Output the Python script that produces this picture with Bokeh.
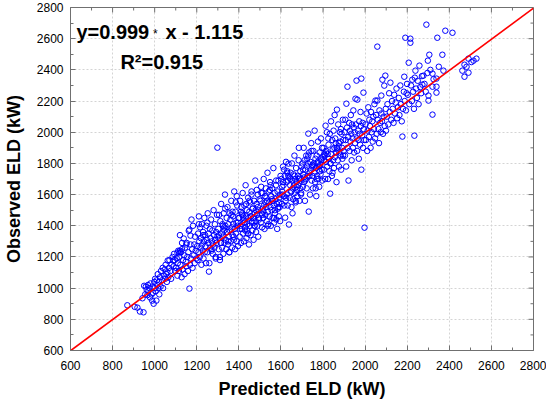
from bokeh.plotting import figure
from bokeh.models import Label, FixedTicker, Range1d
from bokeh.embed import file_html
from bokeh.resources import INLINE

# ---------------- data ----------------
pred_a = [870, 905, 918, 930, 942, 947, 950, 955, 958, 962, 965, 968, 970, 975, 978, 980, 985, 988, 990, 992, 995, 998, 1000]
obs_a = [890, 880, 875, 850, 935, 845, 1015, 960, 1010, 990, 955, 1020, 980, 1000, 940, 1030, 960, 920, 1010, 970, 900, 1040, 1000]

pred_b = [1002, 1005, 1008, 1010, 1012, 1015, 1018, 1020, 1022, 1025, 1028, 1030, 1035, 1038, 1040, 1045, 1048, 1050, 1052, 1055,
          1058, 1060, 1062, 1065, 1068, 1070, 1075, 1078, 1080, 1085, 1088, 1090, 1092, 1095, 1098]
obs_b = [1060, 980, 920, 1050, 1020, 1090, 1000, 1040, 960, 1070, 1010, 1110, 1050, 1130, 1000, 1080, 1120, 1060, 1150, 1090,
         1040, 1100, 1177, 1070, 1130, 1180, 1110, 1060, 1150, 1200, 1177, 1140, 1220, 1180, 1110]

pred_c = [1102, 1105, 1108, 1110, 1112, 1115, 1118, 1120, 1122, 1125, 1128, 1130, 1132, 1135, 1138, 1140, 1142, 1145, 1148, 1150,
          1152, 1155, 1158, 1160, 1162, 1165, 1168, 1170, 1172, 1175, 1178, 1180, 1182, 1185, 1188, 1190, 1192, 1195, 1198, 1165,
          1170, 1150, 1130, 1120, 1108, 1118]
obs_c = [1130, 1190, 1080, 1160, 1240, 1110, 1200, 1340, 1150, 1230, 1070, 1250, 1120, 1180, 1318, 1210, 1090, 1260, 1170, 1140,
         1290, 1200, 1110, 1230, 1368, 997, 1150, 1337, 1190, 1440, 1250, 1130, 1400, 1210, 1280, 1160, 1330, 1240, 1190, 1375,
         1280, 1280, 1290, 1240, 1228, 1228]

pred_d = [1202, 1204, 1206, 1208, 1210, 1212, 1214, 1216, 1218, 1220, 1222, 1224, 1226, 1228, 1230, 1232, 1234, 1236, 1238, 1240,
          1242, 1244, 1246, 1248, 1250, 1252, 1254, 1256, 1258, 1260, 1262, 1264, 1266, 1268, 1270, 1272, 1274, 1276, 1278, 1280,
          1282, 1284, 1286, 1288, 1290, 1292, 1294, 1296, 1298, 1210, 1230, 1250, 1270, 1290, 1298]
obs_d = [1270, 1180, 1350, 1230, 1460, 1300, 1200, 1390, 1260, 1320, 1150, 1410, 1280, 1240, 1360, 1190, 1300, 1450, 1230, 1340,
         1270, 1160, 1400, 1310, 1230, 1480, 1290, 1350, 1106, 1160, 1380, 1260, 1320, 1440, 1240, 1300, 1370, 1220, 1280, 1500,
         1340, 1260, 1410, 1310, 1200, 1360, 1290, 1470, 1330, 1410, 1340, 1420, 1250, 1190, 1901]

pred_e = [1302, 1304, 1306, 1308, 1310, 1312, 1314, 1316, 1318, 1320, 1322, 1324, 1326, 1328, 1330, 1332, 1334, 1336, 1338, 1340,
          1342, 1344, 1346, 1348, 1350, 1352, 1354, 1356, 1358, 1360, 1362, 1364, 1366, 1368, 1370, 1372, 1374, 1376, 1378, 1380,
          1382, 1384, 1386, 1388, 1390, 1392, 1394, 1396, 1398, 1305, 1315, 1325, 1335, 1345, 1355, 1365, 1375, 1385, 1395, 1310,
          1330, 1350, 1370, 1390]
obs_e = [1380, 1250, 1470, 1320, 1200, 1430, 1290, 1540, 1350, 1260, 1410, 1330, 1220, 1480, 1370, 1290, 1600, 1400, 1310, 1250,
         1450, 1360, 1520, 1280, 1410, 1330, 1230, 1480, 1370, 1440, 1300, 1560, 1390, 1260, 1340, 1460, 1410, 1310, 1620, 1380,
         1250, 1490, 1350, 1420, 1300, 1530, 1400, 1270, 1450, 1340, 1290, 1400, 1510, 1360, 1230, 1470, 1330, 1550, 1420, 1180,
         1390, 1300, 1490, 1590]

pred_f = [1402, 1404, 1406, 1408, 1410, 1412, 1414, 1416, 1418, 1420, 1422, 1424, 1426, 1428, 1430, 1432, 1434, 1436, 1438, 1440,
          1442, 1444, 1446, 1448, 1450, 1452, 1454, 1456, 1458, 1460, 1462, 1464, 1466, 1468, 1470, 1472, 1474, 1476, 1478, 1480,
          1482, 1484, 1486, 1488, 1490, 1492, 1494, 1496, 1498, 1405, 1415, 1425, 1435, 1445, 1455, 1465, 1475, 1485, 1495, 1410,
          1430, 1450, 1470, 1490, 1420, 1440, 1460, 1480]
obs_f = [1450, 1330, 1560, 1400, 1290, 1520, 1380, 1470, 1610, 1350, 1440, 1300, 1530, 1420, 1370, 1660, 1460, 1320, 1500, 1410,
         1350, 1580, 1450, 1280, 1490, 1400, 1550, 1340, 1460, 1620, 1420, 1370, 1510, 1450, 1310, 1560, 1400, 1480, 1690, 1430,
         1360, 1540, 1470, 1400, 1600, 1330, 1500, 1440, 1570, 1380, 1480, 1420, 1540, 1350, 1460, 1510, 1400, 1630, 1450, 1490,
         1390, 1560, 1420, 1520, 1460, 1370, 1600, 1500]

pred_g = [1502, 1504, 1506, 1508, 1510, 1512, 1514, 1516, 1518, 1520, 1522, 1524, 1526, 1528, 1530, 1532, 1534, 1536, 1538, 1540,
          1542, 1544, 1546, 1548, 1550, 1552, 1554, 1556, 1558, 1560, 1562, 1564, 1566, 1568, 1570, 1572, 1574, 1576, 1578, 1580,
          1582, 1584, 1586, 1588, 1590, 1592, 1594, 1596, 1598, 1507, 1517, 1527, 1537, 1547, 1557, 1567, 1577, 1587, 1597, 1511,
          1531, 1551, 1571, 1591]
obs_g = [1560, 1420, 1650, 1480, 1390, 1610, 1510, 1450, 1700, 1530, 1380, 1590, 1470, 1640, 1520, 1430, 1560, 1740, 1490, 1410,
         1620, 1550, 1460, 1680, 1520, 1400, 1590, 1500, 1640, 1450, 1560, 1770, 1530, 1420, 1610, 1480, 1570, 1660, 1440, 1540,
         1380, 1620, 1510, 1690, 1460, 1580, 1520, 1430, 1720, 1610, 1490, 1550, 1400, 1630, 1570, 1450, 1690, 1520, 1600, 1470,
         1580, 1660, 1500, 1550]

pred_h = [1602, 1604, 1606, 1608, 1610, 1612, 1614, 1616, 1618, 1620, 1622, 1624, 1626, 1628, 1630, 1632, 1634, 1636, 1638, 1640,
          1642, 1644, 1646, 1648, 1650, 1652, 1654, 1656, 1658, 1660, 1662, 1664, 1666, 1668, 1670, 1672, 1674, 1676, 1678, 1680,
          1682, 1684, 1686, 1688, 1690, 1692, 1694, 1696, 1698, 1605, 1615, 1625, 1635, 1645, 1655, 1665, 1675, 1685, 1695, 1610,
          1630, 1650, 1670, 1690]
obs_h = [1700, 1540, 1620, 1600, 1780, 1660, 1590, 1530, 1720, 1452, 1560, 1810, 1680, 1600, 1750, 1530, 1690, 1799, 1408, 1710,
         1580, 1660, 1740, 1620, 1520, 1800, 1690, 1640, 1570, 1730, 1660, 1850, 1610, 1700, 1550, 1770, 1680, 1630, 1590, 1720,
         1660, 1820, 1700, 1560, 1640, 1750, 1690, 1610, 1780, 1650, 1760, 1580, 1720, 1700, 1480, 1720, 1650, 1900, 1600, 1680,
         1740, 1620, 1560, 1710]

pred_i = [1702, 1704, 1706, 1708, 1710, 1712, 1714, 1716, 1718, 1720, 1722, 1724, 1726, 1728, 1730, 1732, 1734, 1736, 1738, 1740,
          1742, 1744, 1746, 1748, 1750, 1752, 1754, 1756, 1758, 1760, 1762, 1764, 1766, 1768, 1770, 1772, 1774, 1776, 1778, 1780,
          1782, 1784, 1786, 1788, 1790, 1792, 1794, 1796, 1798, 1705, 1715, 1725, 1735, 1745, 1755, 1765, 1775, 1785, 1795, 1710,
          1730, 1750, 1770, 1790]
obs_i = [1800, 1650, 1730, 1900, 1680, 1820, 1560, 1760, 1700, 1850, 1640, 1780, 1720, 1800, 1991, 1491, 1870, 1740, 1600, 1810,
         1760, 1930, 1690, 1780, 1720, 1640, 1880, 1800, 1740, 2010, 1680, 1830, 1770, 1590, 1850, 1720, 1800, 1940, 1700, 1780,
         1650, 1870, 1790, 1730, 1960, 1820, 1760, 1690, 1840, 1760, 1690, 1830, 1720, 1880, 1780, 1640, 1810, 1750, 1900, 1710,
         1850, 1790, 1700, 1830]

pred_j = [1802, 1804, 1806, 1808, 1810, 1812, 1814, 1816, 1818, 1820, 1822, 1824, 1826, 1828, 1830, 1832, 1834, 1836, 1838, 1840,
          1842, 1844, 1846, 1848, 1850, 1852, 1854, 1856, 1858, 1860, 1862, 1864, 1866, 1868, 1870, 1872, 1874, 1876, 1878, 1880,
          1882, 1884, 1886, 1888, 1890, 1892, 1894, 1896, 1898, 1805, 1825, 1845, 1865, 1885, 1815, 1835, 1855, 1875, 1895]
obs_j = [1900, 1760, 1860, 1850, 1700, 2042, 1810, 1880, 2000, 1780, 1860, 1700, 1920, 1830, 1750, 1990, 1606, 1800, 2070, 1860,
         1720, 1950, 1890, 1820, 2010, 1770, 1900, 1840, 1960, 1930, 1870, 1680, 2145, 1890, 1820, 2050, 1910, 1780, 1870, 2000,
         1940, 1850, 1760, 1990, 1900, 1830, 2080, 1950, 1880, 1820, 1960, 1740, 1900, 2020, 1870, 1800, 2110, 1930, 1850]

pred_k = [1902, 1904, 1906, 1908, 1910, 1911, 1914, 1916, 1916, 1920, 1921, 1924, 1926, 1928, 1930, 1932, 1934, 1936, 1938, 1940,
          1942, 1944, 1946, 1948, 1950, 1952, 1954, 1956, 1959, 1960, 1962, 1963, 1966, 1968, 1970, 1972, 1974, 1976, 1978, 1980,
          1982, 1982, 1986, 1988, 1990, 1992, 1994, 1996, 1997]
obs_k = [2000, 1850, 2080, 1950, 1780, 2183, 2030, 1900, 2292, 1970, 1690, 2060, 1880, 2010, 1940, 2110, 1990, 1820, 2050, 1960,
         1900, 2140, 2030, 1870, 2000, 1930, 2215, 2050, 2331, 1960, 1880, 2209, 2010, 1950, 1830, 2070, 1990, 1920, 2130, 2040,
         1760, 2344, 1980, 2060, 1900, 2254, 2020, 1950, 1388]

pred_l = [2002, 2004, 2007, 2010, 2012, 2015, 2018, 2020, 2023, 2026, 2028, 2031, 2034, 2036, 2039, 2042, 2044, 2047, 2049, 2052,
          2055, 2058, 2058, 2060, 2063, 2066, 2068, 2071, 2074, 2077, 2077, 2080, 2082, 2085, 2088, 2091, 2093, 2096, 2098, 2099]
obs_l = [2050, 1950, 2120, 1880, 2010, 2160, 1970, 2080, 2040, 1900, 2130, 2000, 2070, 1940, 2100, 2020, 2180, 1960, 2203, 2110,
         1990, 2203, 2549, 2080, 2020, 1930, 2140, 2060, 2000, 2235, 2120, 2070, 2337, 1990, 2100, 2299, 2040, 2363, 2150, 2010]

pred_m = [2103, 2106, 2110, 2114, 2117, 2120, 2124, 2128, 2131, 2135, 2138, 2142, 2145, 2149, 2152, 2156, 2160, 2163, 2167, 2170,
          2174, 2177, 2180, 2184, 2186, 2188, 2191, 2194, 2197, 2199]
obs_m = [2100, 2180, 2050, 2250, 2130, 2318, 2080, 2200, 2150, 2060, 2240, 2120, 2190, 2280, 2090, 2160, 2220, 2110, 2300, 2180,
         2070, 1972, 2150, 2260, 2356, 2200, 2606, 2140, 2250, 2310]

pred_n = [2203, 2207, 2210, 2215, 2215, 2218, 2222, 2224, 2228, 2232, 2234, 2236, 2239, 2242, 2246, 2250, 2254, 2258, 2262, 2266,
          2270, 2272, 2277, 2282, 2288, 2291, 2296, 2298]
obs_n = [2240, 2446, 2180, 2600, 2574, 2300, 2200, 2337, 2260, 2150, 1978, 2350, 2395, 2280, 2220, 2330, 2180, 2427, 2290, 2250,
         2360, 2305, 2363, 2310, 2260, 2690, 2380, 2459]

pred_o = [2301, 2301, 2305, 2310, 2320, 2320, 2320, 2325, 2339, 2339, 2339, 2343, 2350, 2367, 2372, 2381, 2415, 2462, 2472, 2472,
          2482, 2491, 2491, 2505, 2515, 2529]
obs_o = [2235, 2203, 2497, 2400, 2376, 2292, 2113, 2340, 2344, 2292, 2254, 2606, 2420, 2497, 2395, 2651, 2638, 2395, 2433, 2356,
         2420, 2472, 2382, 2450, 2459, 2472]

predicted = (pred_a + pred_b + pred_c + pred_d + pred_e + pred_f + pred_g + pred_h + pred_i + pred_j + pred_k + pred_l
             + pred_m + pred_n + pred_o)
observed = (obs_a + obs_b + obs_c + obs_d + obs_e + obs_f + obs_g + obs_h + obs_i + obs_j + obs_k + obs_l
            + obs_m + obs_n + obs_o)

fit_slope = 0.999
fit_intercept = -1.115
fit_x = [600, 2800]
fit_y = [fit_slope * v + fit_intercept for v in fit_x]

ticks = [600, 800, 1000, 1200, 1400, 1600, 1800, 2000, 2200, 2400, 2600, 2800]
minor = list(range(700, 2800, 200))
axis_min, axis_max = 600, 2800

FONT = "Liberation Sans"
FRAME = "#707070"
FRAME_W, FRAME_H = 463, 343

p = figure(frame_width=FRAME_W, frame_height=FRAME_H, output_backend="svg", toolbar_location=None,
           x_range=Range1d(axis_min, axis_max), y_range=Range1d(axis_min, axis_max),
           min_border_left=67, min_border_top=7, min_border_right=13, min_border_bottom=43,
           background_fill_color="white", border_fill_color="white")
p.outline_line_color = FRAME
p.outline_line_width = 1

for g in (p.xgrid[0], p.ygrid[0]):
    g.ticker = FixedTicker(ticks=ticks)
    g.grid_line_color = "#d4d4d4"
    g.grid_line_dash = "2 2"
    g.grid_line_width = 1

def style(ax):
    ax.ticker = FixedTicker(ticks=ticks, minor_ticks=minor)
    ax.axis_line_color = FRAME
    ax.major_tick_line_color = FRAME
    ax.minor_tick_line_color = FRAME
    ax.major_tick_in = 5
    ax.major_tick_out = 0
    ax.minor_tick_in = 3
    ax.minor_tick_out = 0
    ax.major_label_text_font = FONT
    ax.major_label_text_color = "black"
    ax.major_label_text_font_size = "12px"
    ax.axis_label_text_font = FONT
    ax.axis_label_text_font_style = "bold"
    ax.axis_label_text_font_size = "18px"
    ax.axis_label_text_color = "black"

style(p.xaxis[0])
style(p.yaxis[0])
p.xaxis[0].axis_label = "Predicted ELD (kW)"
p.yaxis[0].axis_label = "Observed ELD (kW)"
p.xaxis[0].major_label_standoff = 10
p.xaxis[0].axis_label_standoff = 6
p.yaxis[0].major_label_standoff = 7
p.yaxis[0].axis_label_standoff = 10

# inward ticks on the top and right edges of the frame
span = axis_max - axis_min
maj_x = 5 * span / FRAME_W
maj_y = 5 * span / FRAME_H
min_x = 3 * span / FRAME_W
min_y = 3 * span / FRAME_H
p.segment(x0=ticks, y0=[axis_max] * len(ticks), x1=ticks, y1=[axis_max - maj_y] * len(ticks),
          line_color=FRAME, line_width=1)
p.segment(x0=minor, y0=[axis_max] * len(minor), x1=minor, y1=[axis_max - min_y] * len(minor),
          line_color=FRAME, line_width=1)
p.segment(x0=[axis_max] * len(ticks), y0=ticks, x1=[axis_max - maj_x] * len(ticks), y1=ticks,
          line_color=FRAME, line_width=1)
p.segment(x0=[axis_max] * len(minor), y0=minor, x1=[axis_max - min_x] * len(minor), y1=minor,
          line_color=FRAME, line_width=1)

p.scatter(predicted, observed, marker="circle", size=5.5, fill_color=None,
          line_color="#0000ff", line_width=1.0)
p.line(fit_x, fit_y, line_color="#ff0000", line_width=1.6)

eq_font = "20px"
p.add_layout(Label(x=628, y=2645, text="y=0.999", text_font=FONT, text_font_style="bold",
                   text_font_size=eq_font, text_baseline="alphabetic", text_color="black"))
p.add_layout(Label(x=992, y=2628, text="*", text_font=FONT, text_font_size="12px",
                   text_baseline="alphabetic", text_color="black"))
p.add_layout(Label(x=1051, y=2645, text="x - 1.115", text_font=FONT, text_font_style="bold",
                   text_font_size=eq_font, text_baseline="alphabetic", text_color="black"))
p.add_layout(Label(x=837, y=2453, text="R²=0.915", text_font=FONT, text_font_style="bold",
                   text_font_size=eq_font, text_baseline="alphabetic", text_color="black"))

open("out.html", "w").write(file_html(p, INLINE))
